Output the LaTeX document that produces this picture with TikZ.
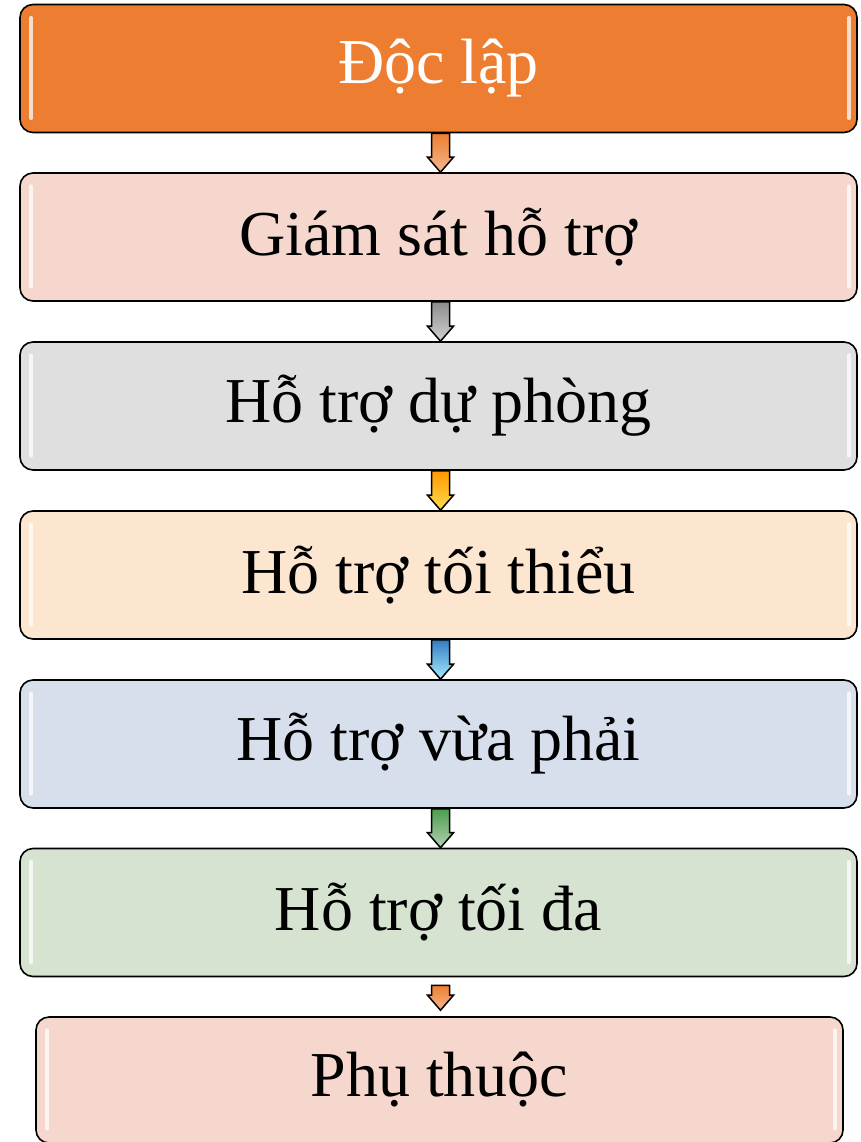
\documentclass[tikz,border=0pt]{standalone}
\usepackage{fontspec}
\setmainfont{Liberation Serif}
\usetikzlibrary{calc}
\definecolor{cA}{HTML}{ED7D31}
\definecolor{cB}{HTML}{F5D7CD}
\definecolor{cC}{HTML}{DFDFDF}
\definecolor{cD}{HTML}{FCE6CF}
\definecolor{cE}{HTML}{D7DEEC}
\definecolor{cF}{HTML}{D6E3D1}
\tikzset{
  box/.style={draw=black, line width=1.6pt, rounded corners=13pt, inner sep=0pt,
    minimum width=837pt, minimum height=128pt, font=\fontsize{64}{70}\selectfont},
  gloss/.style={line width=3.5pt, line cap=round, white, opacity=0.75},
  blockarr/.style={draw=black, line width=1.5pt, line join=miter},
}
\newcommand\blockarrow[6]{%
  \path[blockarr, top color=#3, bottom color=#4]
    let \p1=($(#1.south)+(2pt,-#5)$), \p2=($(#2.north)+(2pt,#6)$) in
    (\x1-9pt,\y1) -- (\x1+9pt,\y1) -- (\x1+9pt,\y2+15pt) -- (\x1+13pt,\y2+15pt)
    -- (\x1,\y2) -- (\x1-13pt,\y2+15pt) -- (\x1-9pt,\y2+15pt) -- cycle;
}
\newcommand\glossbars[1]{%
  \draw[gloss] ($(#1.north west)+(12pt,-14pt)$) -- ($(#1.south west)+(12pt,15pt)$);
  \draw[gloss] ($(#1.north east)+(-9pt,-14pt)$) -- ($(#1.south east)+(-9pt,15pt)$);
}
\begin{document}
\begin{tikzpicture}[x=1pt,y=1pt]
\useasboundingbox (0,0) rectangle (861,-1142);
\node[box, fill=cA, text=white] (b1) at (438.5,-68.5) {Độc lập};
\node[box, fill=cB] (b2) at (438.5,-237) {Giám sát hỗ trợ};
\node[box, fill=cC] (b3) at (438.5,-406) {Hỗ trợ dự phòng};
\node[box, fill=cD] (b4) at (438.5,-575) {Hỗ trợ tối thiểu};
\node[box, fill=cE] (b5) at (438.5,-744) {Hỗ trợ vừa phải};
\node[box, fill=cF] (b6) at (438.5,-912.5) {Hỗ trợ tối đa};
\node[box, fill=cB, minimum width=807pt, minimum height=126pt] (b7) at (439.5,-1080) {Phụ thuộc};
\glossbars{b1}
\glossbars{b2}
\glossbars{b3}
\glossbars{b4}
\glossbars{b5}
\glossbars{b6}
\glossbars{b7}
\blockarrow{b1}{b2}{cA}{cA!55!white}{0pt}{0pt}
\blockarrow{b2}{b3}{black!45}{black!18}{0pt}{0pt}
\blockarrow{b3}{b4}{orange!80!yellow}{yellow!60!orange!70}{0pt}{0pt}
\blockarrow{b4}{b5}{blue!50!cyan!70!black!80}{blue!20!cyan!35}{0pt}{0pt}
\blockarrow{b5}{b6}{green!45!black!70!white}{green!40!black!30!white}{0pt}{0pt}
\blockarrow{b6}{b7}{cA}{cA!55!white}{8pt}{6pt}
\end{tikzpicture}
\end{document}
